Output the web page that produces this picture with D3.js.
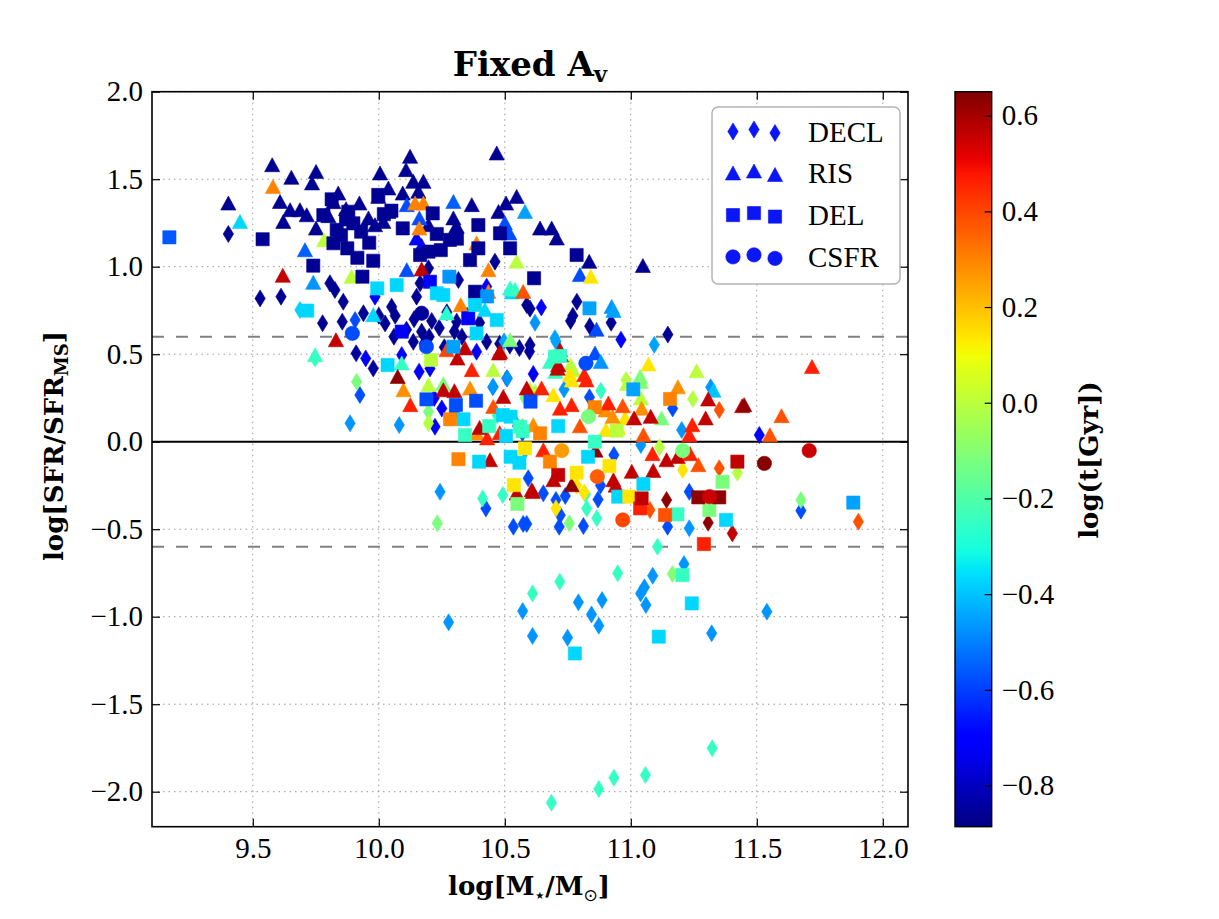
<!DOCTYPE html>
<html>
<head>
<meta charset="utf-8">
<script src="https://cdn.jsdelivr.net/npm/d3@7"></script>
<style>
  body { margin: 0; background: #fff; }
  text { font-family: "Liberation Serif", serif; fill: #000; }
  .lbl { font-family: "DejaVu Serif", serif; font-weight: bold; }
</style>
</head>
<body>
<div id="chart"></div>
<script>
// ---- data: [log M*, log SFR/SFR_MS, log t(Gyr)] ----
var decl = [
  [9.403,1.187,-0.86],[9.529,0.819,-0.86],[9.612,0.829,-0.86],[9.777,0.677,-0.86],[9.855,0.686,-0.86],
  [9.939,0.734,-0.86],[9.806,0.905,-0.86],[9.826,0.867,-0.86],[9.859,0.800,-0.86],[9.910,0.505,-0.84],
  [9.978,0.419,-0.84],[10.051,0.771,-0.86],[10.065,0.720,-0.86],[10.025,0.676,-0.86],[10.150,0.829,-0.86],
  [10.164,0.905,-0.86],[10.197,0.991,-0.86],[10.316,0.924,-0.86],[10.309,0.686,-0.86],[10.270,0.740,-0.86],
  [10.210,0.690,-0.86],[10.140,0.700,-0.86],[10.137,0.571,-0.86],[10.170,0.629,-0.86],[10.200,0.600,-0.86],
  [10.240,0.650,-0.86],[10.461,1.029,-0.86],[10.587,0.781,-0.86],[10.600,0.760,-0.86],[10.786,0.800,-0.86],
  [10.770,0.720,-0.86],[10.761,0.690,-0.86],[10.837,0.660,-0.86],[10.922,0.680,-0.86],[10.600,0.553,-0.86],
  [10.558,0.535,-0.84],[10.598,0.515,-0.84],[10.428,0.571,-0.86],[10.480,0.560,-0.86],[10.520,0.550,-0.86],
  [11.147,0.612,-0.86],[10.110,0.640,-0.86],[10.300,0.630,-0.86],[10.350,0.720,-0.86],[10.000,0.720,-0.86],
  [10.060,0.600,-0.86],[10.330,0.600,-0.86],[10.400,0.680,-0.86],[10.180,0.560,-0.86],[10.260,0.540,-0.86],
  [9.948,0.476,-0.72],[9.985,0.829,-0.72],[10.091,0.495,-0.72],[10.223,0.086,-0.72],[10.250,0.190,-0.72],
  [10.203,0.419,-0.72],[10.388,0.514,-0.72],[10.428,0.886,-0.72],[10.645,0.767,-0.70],[10.961,0.583,-0.72],
  [10.613,0.387,-0.70],[11.510,0.038,-0.70],[10.220,0.250,-0.70],[10.160,0.400,-0.70],
  [9.906,0.695,-0.58],[9.925,0.267,-0.58],[10.425,-0.381,-0.58],[10.534,-0.486,-0.58],[10.508,0.362,-0.58],
  [10.836,0.254,-0.58],[11.166,0.190,-0.58],[10.933,-0.076,-0.58],[10.593,-0.209,-0.58],[10.653,-0.295,-0.58],
  [10.703,-0.333,-0.58],[10.740,-0.310,-0.58],[10.573,-0.470,-0.58],[10.587,-0.470,-0.58],[10.716,-0.486,-0.58],
  [10.720,-0.420,-0.58],[10.812,-0.482,-0.58],[10.870,-0.330,-0.58],[11.146,-0.486,-0.58],[11.232,-0.286,-0.58],
  [11.675,-0.394,-0.58],[10.300,0.170,-0.58],[10.570,0.050,-0.58],[10.880,-0.250,-0.58],
  [9.886,0.105,-0.47],[10.081,0.095,-0.47],[10.243,-0.286,-0.47],[10.454,0.314,-0.47],[10.620,0.680,-0.47],
  [10.699,0.591,-0.45],[10.497,0.573,-0.45],[10.703,0.573,-0.45],[11.093,0.554,-0.45],[10.510,0.362,-0.47],
  [10.452,0.311,-0.47],[10.735,0.299,-0.47],[11.317,0.311,-0.47],[11.202,0.067,-0.47],[11.040,-0.019,-0.47],
  [11.232,-0.495,-0.47],[10.580,-0.050,-0.47],[10.550,0.090,-0.47],
  [10.277,-1.032,-0.47],[10.571,-0.968,-0.47],[10.610,-1.110,-0.47],[10.749,-1.120,-0.47],[10.792,-0.918,-0.47],
  [10.844,-0.987,-0.47],[10.873,-1.051,-0.47],[10.886,-0.905,-0.47],[11.039,-0.867,-0.47],[11.054,-0.832,-0.47],
  [11.060,-0.933,-0.47],[11.087,-0.766,-0.47],[11.211,-0.699,-0.47],[11.321,-1.095,-0.47],[11.540,-0.971,-0.47],
  [9.687,0.753,-0.38],
  [9.747,0.476,-0.25],[10.881,0.291,-0.25],[10.412,-0.324,-0.25],[10.492,-0.305,-0.25],[10.825,-0.381,-0.25],
  [10.865,-0.438,-0.25],[11.106,-0.600,-0.25],[10.610,-0.867,-0.25],[10.718,-0.800,-0.25],[10.948,-0.752,-0.25],
  [11.323,-1.752,-0.25],[11.058,-1.905,-0.25],[10.933,-1.920,-0.25],[10.873,-1.985,-0.25],[10.685,-2.063,-0.25],
  [10.820,-0.300,-0.25],[10.470,0.150,-0.25],
  [9.912,0.343,-0.12],[10.197,0.171,-0.12],[10.232,-0.466,-0.12],[10.756,-0.466,-0.12],[11.675,-0.333,-0.12],
  [11.165,-0.756,-0.10],[10.580,0.250,-0.12],
  [10.197,0.105,-0.01],[10.981,0.353,-0.01],[11.246,0.244,-0.01],[11.114,-0.032,-0.01],[11.423,-0.177,-0.01],
  [10.620,0.280,-0.01],
  [11.206,-0.162,0.14],[10.703,-0.381,0.14],[10.815,-0.290,0.14],[10.785,-0.250,0.14],
  [11.351,0.181,0.38],[11.351,-0.152,0.38],[11.076,-0.390,0.38],[11.903,-0.457,0.38],
  [11.142,-0.333,0.63],[11.307,-0.463,0.63],[11.403,-0.524,0.56]
];

var ris = [
  [9.403,1.362,-0.86],[9.577,1.581,-0.86],[9.653,1.509,-0.86],[9.608,1.371,-0.86],[9.648,1.324,-0.86],
  [9.621,1.257,-0.86],[9.687,1.324,-0.86],[9.714,1.295,-0.86],[9.751,1.543,-0.86],[9.735,1.477,-0.86],
  [9.751,1.219,-0.86],[9.839,1.419,-0.86],[9.820,1.370,-0.86],[9.923,1.362,-0.86],[9.959,1.277,-0.86],
  [10.005,1.534,-0.86],[9.998,1.400,-0.86],[10.038,1.448,-0.86],[10.038,1.314,-0.86],[9.985,1.238,-0.86],
  [10.018,1.257,-0.86],[10.124,1.629,-0.86],[10.108,1.553,-0.86],[10.095,1.419,-0.86],[10.137,1.486,-0.86],
  [10.177,1.486,-0.86],[10.157,1.429,-0.86],[10.197,1.238,-0.86],[10.296,1.277,-0.86],[10.369,1.353,-0.86],
  [10.309,1.229,-0.86],[10.468,1.648,-0.86],[10.475,1.314,-0.86],[10.505,1.362,-0.86],[10.547,1.400,-0.86],
  [10.640,1.219,-0.86],[10.686,1.219,-0.86],[10.706,1.162,-0.86],[10.835,1.029,-0.86],[11.048,1.005,-0.86],
  [10.490,1.200,-0.86],[10.300,1.210,-0.86],[9.870,1.330,-0.86],[9.800,1.290,-0.86],
  [9.707,1.095,-0.55],[10.111,1.353,-0.58],[10.161,1.277,-0.58],[10.111,0.981,-0.58],[10.296,1.371,-0.55],
  [10.518,1.191,-0.58],[10.798,0.953,-0.58],[10.864,0.641,-0.58],[10.858,0.505,-0.58],[10.500,1.250,-0.58],
  [10.150,1.162,-0.70],[10.170,1.120,-0.70],
  [9.740,0.909,-0.47],[10.580,1.314,-0.45],[10.924,0.771,-0.47],[10.881,0.457,-0.47],[10.931,0.748,-0.45],
  [9.449,1.257,-0.37],[10.421,0.753,-0.37],[9.978,0.724,-0.37],[10.528,0.854,-0.37],[11.328,0.292,-0.40],
  [9.747,0.495,-0.25],[10.521,0.876,-0.27],[10.540,0.870,-0.25],[10.091,0.448,-0.25],[10.269,0.734,-0.27],
  [10.679,0.457,-0.25],[10.700,0.400,-0.25],
  [10.521,0.581,-0.12],[10.256,0.330,-0.12],[11.037,0.371,-0.12],[11.122,0.134,-0.12],[11.040,0.341,-0.10],
  [9.783,1.153,0.00],[9.892,0.943,0.00],[10.547,1.029,0.00],[10.197,0.324,0.00],[10.454,0.410,0.00],
  [10.761,0.438,0.00],[11.261,0.404,0.00],[11.040,0.248,0.00],[10.985,0.331,0.00],[10.770,0.409,0.00],
  [10.600,0.300,0.00],
  [10.841,0.943,0.14],[10.758,0.381,0.14],[11.070,0.442,0.14],[10.766,0.351,0.14],[10.693,0.267,0.14],
  [10.901,0.067,0.14],[10.977,0.134,0.14],[10.950,0.080,0.14],
  [9.580,1.457,0.30],[10.144,1.362,0.30],[10.177,1.362,0.30],[10.161,1.219,0.30],[10.388,1.134,0.30],
  [10.435,0.981,0.30],[10.435,0.857,0.30],[10.325,0.781,0.30],[10.098,0.295,0.28],[10.362,0.305,0.28],
  [10.388,0.048,0.28],[11.187,0.312,0.28],[10.928,0.143,0.28],[10.613,0.095,0.28],[10.570,0.090,0.28],
  [11.043,0.190,0.28],[10.900,0.180,0.28],
  [10.573,0.857,0.38],[10.454,0.200,0.38],[10.269,0.524,0.40],[10.798,0.089,0.38],[10.968,0.204,0.38],
  [11.050,0.038,0.38],[11.268,-0.133,0.38],[11.598,0.147,0.38],[11.552,0.038,0.38],[10.850,0.200,0.38],
  [10.125,0.210,0.46],[10.369,0.410,0.46],[10.815,0.381,0.46],[10.824,0.351,0.46],[11.719,0.428,0.46],
  [10.646,0.305,0.46],[10.719,0.190,0.46],[10.765,0.210,0.46],[10.911,0.219,0.46],[11.244,0.095,0.46],
  [11.232,0.038,0.46],[10.653,-0.048,0.46],[11.086,-0.070,0.46],[11.235,-0.070,0.46],[10.430,0.020,0.46],
  [10.480,0.050,0.46],
  [9.619,0.949,0.56],[9.830,0.581,0.56],[10.170,0.985,0.56],[10.342,0.534,0.56],[10.481,0.514,0.56],
  [10.719,0.524,0.56],[10.723,0.495,0.56],[10.710,0.418,0.56],[10.477,0.505,0.56],[10.712,0.438,0.56],
  [10.256,0.295,0.56],[10.494,0.257,0.56],[10.587,0.305,0.56],[11.307,0.242,0.56],[11.442,0.204,0.56],
  [11.297,0.134,0.56],[11.013,0.134,0.56],[11.079,0.143,0.56],[11.142,-0.105,0.56],[11.186,-0.086,0.56],
  [11.004,-0.171,0.56],[11.089,-0.166,0.56],[10.931,-0.219,0.56],[10.940,-0.250,0.56],[10.441,-0.105,0.56],
  [10.611,-0.286,0.56],[10.693,-0.219,0.56],[10.547,-0.295,0.56],[10.607,-0.276,0.56],[10.300,0.290,0.56],
  [10.400,0.080,0.56],[10.312,0.476,0.56],
  [10.075,0.371,0.63],[10.765,-0.248,0.63],[10.860,-0.050,0.63],[11.450,0.210,0.63]
];

var del = [
  [9.539,1.157,-0.86],[9.740,1.006,-0.86],[9.780,1.295,-0.86],[9.813,1.385,-0.86],[9.820,1.134,-0.86],
  [9.833,1.210,-0.86],[9.879,1.314,-0.86],[9.899,1.248,-0.86],[9.875,1.105,-0.86],[9.915,1.051,-0.86],
  [9.962,1.137,-0.86],[9.978,1.034,-0.86],[9.998,1.410,-0.86],[9.935,0.943,-0.86],[10.095,1.219,-0.86],
  [10.164,1.067,-0.86],[10.197,1.086,-0.86],[10.214,1.305,-0.86],[10.230,1.187,-0.86],[10.246,1.095,-0.86],
  [10.282,1.153,-0.86],[10.310,1.160,-0.86],[10.382,0.857,-0.86],[10.362,1.038,-0.86],[10.395,1.105,-0.86],
  [10.395,1.238,-0.86],[10.481,1.191,-0.86],[10.521,1.105,-0.86],[10.616,0.934,-0.86],[10.785,1.067,-0.86],
  [9.850,1.180,-0.86],[9.930,1.200,-0.86],[10.020,1.300,-0.86],[10.050,1.320,-0.86],[9.870,1.270,-0.86],
  [10.203,0.914,-0.72],[10.091,0.629,-0.70],[10.355,0.705,-0.70],
  [9.169,1.168,-0.56],[10.189,0.242,-0.58],[10.306,0.210,-0.58],[10.386,0.234,-0.58],[10.602,0.229,-0.58],
  [10.280,0.943,-0.47],[10.836,0.762,-0.45],[10.296,0.543,-0.45],[11.010,0.299,-0.45],[11.883,-0.348,-0.45],
  [10.430,0.830,-0.47],
  [9.716,0.749,-0.37],[9.994,0.876,-0.37],[10.071,0.895,-0.37],[10.230,0.848,-0.37],[10.256,0.838,-0.37],
  [10.382,0.781,-0.37],[10.468,0.695,-0.37],[10.035,0.438,-0.37],[10.336,0.128,-0.37],[10.388,0.619,-0.37],
  [10.492,0.152,-0.37],[10.523,0.143,-0.37],[10.505,0.033,-0.37],[10.712,0.089,-0.37],[10.523,-0.086,-0.37],
  [10.558,-0.120,-0.37],[10.830,-0.086,-0.37],[10.398,-0.114,-0.37],[10.950,-0.314,-0.37],[11.050,-0.242,-0.37],
  [11.378,-0.447,-0.37],[10.778,-1.210,-0.37],[11.111,-1.114,-0.37],[11.242,-0.924,-0.37],
  [10.438,0.089,-0.25],[10.560,0.086,-0.25],[10.342,0.038,-0.25],[10.857,0.000,-0.25],[11.185,-0.415,-0.25],
  [11.205,-0.762,-0.25],[10.699,0.486,-0.25],[10.720,0.490,-0.25],[10.570,0.060,-0.25],
  [10.550,-0.356,-0.12],[11.364,-0.229,-0.12],[11.312,-0.390,-0.12],
  [10.207,0.467,0.00],[10.944,0.063,0.00],
  [10.580,-0.038,0.14],[10.785,-0.177,0.14],[10.915,-0.139,0.14],[10.536,-0.248,0.14],[10.994,-0.314,0.14],
  [10.283,0.128,0.30],[10.316,-0.100,0.30],[11.156,0.244,0.30],[10.857,0.197,0.30],[10.640,0.048,0.30],
  [10.679,-0.114,0.30],
  [11.136,-0.419,0.38],
  [11.037,-0.381,0.46],[11.290,-0.585,0.46],
  [10.712,-0.190,0.56],[11.043,-0.324,0.56],[11.423,-0.114,0.56],
  [11.268,-0.318,0.63],[11.351,-0.318,0.63]
];

var csfr = [
  [9.895,0.619,-0.58],[10.189,0.543,-0.58],[10.170,0.734,-0.85],[10.822,0.448,-0.58],[10.832,0.143,-0.12],
  [10.726,-0.051,0.26],[11.206,-0.051,-0.12],[11.708,-0.051,0.55],[11.530,-0.124,0.64],[10.867,-0.200,0.36],
  [11.312,-0.314,0.55],[10.968,-0.447,0.40]
];

var xTicks = [9.5, 10.0, 10.5, 11.0, 11.5, 12.0];
var yTicks = [-2.0, -1.5, -1.0, -0.5, 0.0, 0.5, 1.0, 1.5, 2.0];
var cTicks = [-0.8, -0.6, -0.4, -0.2, 0.0, 0.2, 0.4, 0.6];
var legendNames = ["DECL", "RIS", "DEL", "CSFR"];
var cRange = [-0.886, 0.65];

// ---- layout ----
var width = 1219, height = 919;
var L = 152, R = 908, T = 91.7, B = 826.7;

var svg = d3.select("#chart").append("svg")
  .attr("width", width).attr("height", height);

var x = d3.scaleLinear().domain([9.1, 12.1]).range([L, R]);
var y = d3.scaleLinear().domain([-2.2, 2.0]).range([B, T]);
var cnorm = d3.scaleLinear().domain(cRange).range([0, 1]).clamp(true);

// matplotlib "jet"
function jet(t) {
  function seg(p) {
    for (var i = 1; i < p.length; i++) {
      if (t <= p[i][0]) {
        var a = p[i - 1], b = p[i];
        return a[1] + (b[1] - a[1]) * (t - a[0]) / (b[0] - a[0]);
      }
    }
    return p[p.length - 1][1];
  }
  var r = seg([[0, 0], [0.35, 0], [0.66, 1], [0.89, 1], [1, 0.5]]);
  var g = seg([[0, 0], [0.125, 0], [0.375, 1], [0.64, 1], [0.91, 0], [1, 0]]);
  var b = seg([[0, 0.5], [0.11, 1], [0.34, 1], [0.65, 0], [1, 0]]);
  return d3.rgb(r * 255, g * 255, b * 255).formatHex();
}
var color = function(c) { return jet(cnorm(c)); };

var shapes = {
  DECL: "M0,-8.5L5.2,0L0,8.5L-5.2,0Z",
  RIS: "M0,-7.3L7.6,6.7L-7.6,6.7Z",
  DEL: "M-6.6,-6.6H6.6V6.6H-6.6Z",
  CSFR: d3.symbol().type(d3.symbolCircle).size(Math.PI * 7.2 * 7.2)()
};

// grid
var grid = svg.append("g").attr("stroke", "#9a9a9a").attr("stroke-width", 1)
  .attr("stroke-dasharray", "1.5,4");
grid.selectAll(".gx").data(xTicks).enter().append("line")
  .attr("x1", d => x(d)).attr("x2", d => x(d)).attr("y1", T).attr("y2", B);
grid.selectAll(".gy").data(yTicks).enter().append("line")
  .attr("x1", L).attr("x2", R).attr("y1", d => y(d)).attr("y2", d => y(d));

// reference lines
svg.selectAll(".dash").data([0.6, -0.6]).enter().append("line")
  .attr("x1", L).attr("x2", R).attr("y1", d => y(d)).attr("y2", d => y(d))
  .attr("stroke", "#808080").attr("stroke-width", 2).attr("stroke-dasharray", "12,12");
svg.append("line")
  .attr("x1", L).attr("x2", R).attr("y1", y(0)).attr("y2", y(0))
  .attr("stroke", "#000").attr("stroke-width", 2);

// points
svg.append("clipPath").attr("id", "clip").append("rect")
  .attr("x", L).attr("y", T).attr("width", R - L).attr("height", B - T);
var pts = svg.append("g").attr("clip-path", "url(#clip)");

function drawSet(data, name) {
  pts.append("g").selectAll("path").data(data).enter().append("path")
    .attr("d", shapes[name])
    .attr("transform", d => "translate(" + x(d[0]) + "," + y(d[1]) + ")")
    .attr("fill", d => color(d[2]))
    .attr("stroke", d => color(d[2]))
    .attr("stroke-width", 0.6);
}
drawSet(decl, "DECL");
drawSet(ris, "RIS");
drawSet(del, "DEL");
drawSet(csfr, "CSFR");

// axes
var fmt = d3.format(".1f");
function styleAxis(g) {
  g.attr("font-family", null).attr("font-size", null);
  g.select(".domain").remove();
  g.selectAll(".tick line").attr("stroke", "#000").attr("stroke-width", 1.2);
  g.selectAll(".tick text")
    .style("font-family", "'Liberation Serif', serif")
    .style("font-size", "29px");
}
svg.append("g").attr("transform", "translate(0," + B + ")")
  .call(d3.axisBottom(x).tickValues(xTicks).tickFormat(fmt).tickSizeInner(-8).tickSizeOuter(0).tickPadding(11))
  .call(styleAxis);
svg.append("g").attr("transform", "translate(0," + T + ")")
  .call(d3.axisTop(x).tickValues(xTicks).tickFormat("").tickSizeInner(-8).tickSizeOuter(0))
  .call(styleAxis);
svg.append("g").attr("transform", "translate(" + L + ",0)")
  .call(d3.axisLeft(y).tickValues(yTicks).tickFormat(fmt).tickSizeInner(-8).tickSizeOuter(0).tickPadding(9))
  .call(styleAxis);
svg.append("g").attr("transform", "translate(" + R + ",0)")
  .call(d3.axisRight(y).tickValues(yTicks).tickFormat("").tickSizeInner(-8).tickSizeOuter(0))
  .call(styleAxis);

svg.append("rect").attr("x", L).attr("y", T).attr("width", R - L).attr("height", B - T)
  .attr("fill", "none").attr("stroke", "#000").attr("stroke-width", 1.6);

// legend
var lg = svg.append("g");
lg.append("rect").attr("x", 712).attr("y", 107).attr("width", 188).attr("height", 177)
  .attr("rx", 6).attr("fill", "#fff").attr("stroke", "#b4b4b4").attr("stroke-width", 1.5);
var lx = [733, 754, 775], ly = [0, -2, 1.5];
legendNames.forEach(function(name, i) {
  var ry = 131.5 + i * 41.8;
  lx.forEach(function(px, j) {
    lg.append("path").attr("d", shapes[name])
      .attr("transform", "translate(" + px + "," + (ry + ly[j]) + ")")
      .attr("fill", "#0b16f4").attr("stroke", "#0b16f4").attr("stroke-width", 0.6);
  });
  lg.append("text").attr("x", 808).attr("y", ry + 10)
    .style("font-family", "'Liberation Serif', serif").style("font-size", "29px").text(name);
});

// colorbar
var cbL = 955, cbW = 36.7;
var cy = d3.scaleLinear().domain(cRange).range([B, T]);
var grad = svg.append("defs").append("linearGradient").attr("id", "jetgrad")
  .attr("x1", 0).attr("y1", 1).attr("x2", 0).attr("y2", 0);
d3.range(0, 101).forEach(function(i) {
  grad.append("stop").attr("offset", i + "%").attr("stop-color", jet(i / 100));
});
svg.append("rect").attr("x", cbL).attr("y", T).attr("width", cbW).attr("height", B - T)
  .attr("fill", "url(#jetgrad)").attr("stroke", "#000").attr("stroke-width", 1.4);
svg.append("g").attr("transform", "translate(" + (cbL + cbW) + ",0)")
  .call(d3.axisRight(cy).tickValues(cTicks).tickFormat(fmt).tickSizeInner(-7).tickSizeOuter(0).tickPadding(10))
  .call(styleAxis);

// titles
svg.append("text").attr("class", "lbl").attr("x", 530).attr("y", 76)
  .attr("text-anchor", "middle").style("font-size", "34px")
  .call(t => {
    t.append("tspan").text("Fixed A");
    t.append("tspan").attr("dy", 6).style("font-size", "23px").text("v");
  });

svg.append("text").attr("class", "lbl").attr("x", 529).attr("y", 895)
  .attr("text-anchor", "middle").style("font-size", "26px")
  .call(t => {
    t.append("tspan").text("log[M");
    t.append("tspan").attr("dy", 6).style("font-size", "17px").style("font-family", "DejaVu Sans").text("\u22C6");
    t.append("tspan").attr("dy", -6).text("/M");
    t.append("tspan").attr("dy", 6).style("font-size", "17px").style("font-family", "DejaVu Sans").style("font-weight", "normal").text("\u2299");
    t.append("tspan").attr("dy", -6).text("]");
  });

svg.append("text").attr("class", "lbl")
  .attr("transform", "translate(63,446) rotate(-90)")
  .attr("text-anchor", "middle").style("font-size", "26px")
  .call(t => {
    t.append("tspan").text("log[SFR/SFR");
    t.append("tspan").attr("dy", 5).style("font-size", "18px").text("MS");
    t.append("tspan").attr("dy", -5).text("]");
  });

svg.append("text").attr("class", "lbl")
  .attr("transform", "translate(1098,460) rotate(-90)")
  .attr("text-anchor", "middle").style("font-size", "26px")
  .text("log(t[Gyr])");
</script>
</body>
</html>
